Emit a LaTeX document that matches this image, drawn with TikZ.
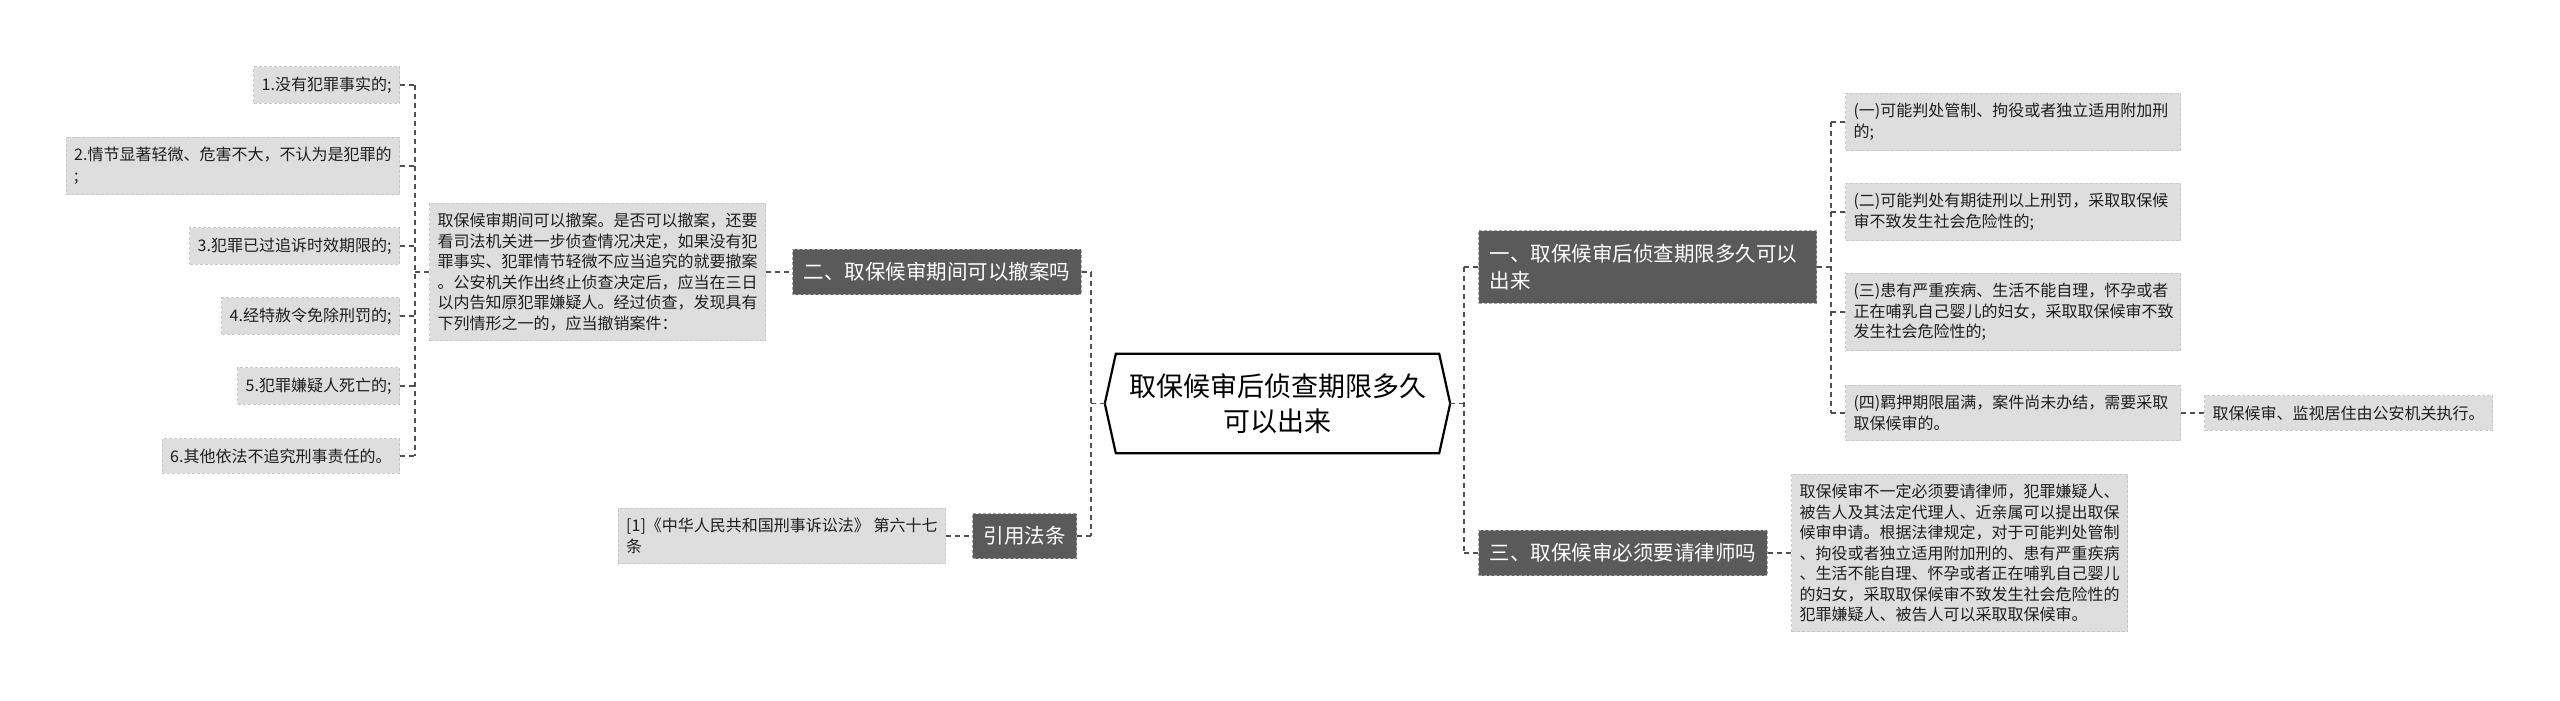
\documentclass[tikz,border=0pt]{standalone}
\usepackage{fontspec}
\setmainfont{Noto Sans CJK SC}
\usetikzlibrary{calc}
\definecolor{darkbox}{RGB}{90,90,90}
\definecolor{darkedge}{RGB}{165,165,165}
\definecolor{leafbox}{RGB}{222,222,222}
\definecolor{leafedge}{RGB}{200,200,200}
\definecolor{linec}{RGB}{80,80,80}
\definecolor{txt}{RGB}{30,30,30}
\begin{document}
\begin{tikzpicture}[x=1pt,y=-1pt,
 leaf/.style={fill=leafbox, draw=leafedge, dash pattern=on 3pt off 2pt, line width=1pt, text=txt, font=\fontsize{16}{20.5}\selectfont, align=left, inner xsep=8pt, inner ysep=10pt},
 topic/.style={fill=darkbox, draw=darkedge, dash pattern=on 3pt off 2pt, line width=1pt, text=white, font=\fontsize{20.5}{27.5}\selectfont, align=left, inner xsep=11pt, inner ysep=13pt},
 conn/.style={draw=linec, line width=1.3pt, dash pattern=on 5pt off 4pt},
]
\useasboundingbox (0,0) rectangle (2560,701);
\fill[white] (0,0) rectangle (2560,701);

% centre
\node[font=\fontsize{27}{35}\selectfont, align=center, minimum width=345pt, minimum height=99pt, inner sep=0pt] (C) at (1277.5,403.5) {取保候审后侦查期限多久\\可以出来};
\draw[line width=2.2pt, black, line join=miter] (C.west) -- ([xshift=11pt]C.north west) -- ([xshift=-11pt]C.north east) -- (C.east) -- ([xshift=-11pt]C.south east) -- ([xshift=11pt]C.south west) -- cycle;

% left leaves
\node[leaf, anchor=east] (L1) at (400,85) {1.没有犯罪事实的;};
\node[leaf, anchor=east] (L2) at (400,166) {2.情节显著轻微、危害不大，不认为是犯罪的\\;};
\node[leaf, anchor=east] (L3) at (400,246) {3.犯罪已过追诉时效期限的;};
\node[leaf, anchor=east] (L4) at (400,316) {4.经特赦令免除刑罚的;};
\node[leaf, anchor=east] (L5) at (400,386) {5.犯罪嫌疑人死亡的;};
\node[leaf, anchor=east] (L6) at (400,456) {6.其他依法不追究刑事责任的。};

\node[leaf, anchor=west] (D2) at (429,272) {取保候审期间可以撤案。是否可以撤案，还要\\看司法机关进一步侦查情况决定，如果没有犯\\罪事实、犯罪情节轻微不应当追究的就要撤案\\。公安机关作出终止侦查决定后，应当在三日\\以内告知原犯罪嫌疑人。经过侦查，发现具有\\下列情形之一的，应当撤销案件：};

\node[topic, anchor=west] (N2) at (792,272) {二、取保候审期间可以撤案吗};
\node[topic, anchor=east] (Ref) at (1077,536) {引用法条};
\node[leaf, anchor=east] (RefL) at (946,536) {[1]《中华人民共和国刑事诉讼法》 第六十七\\条};

% right side
\node[topic, anchor=west, text width=316pt] (N1) at (1478,267) {一、取保候审后侦查期限多久可以\\出来};
\node[topic, anchor=west] (N3) at (1478,553) {三、取保候审必须要请律师吗};
\node[leaf, anchor=west] (D3) at (1791,553) {取保候审不一定必须要请律师，犯罪嫌疑人、\\被告人及其法定代理人、近亲属可以提出取保\\候审申请。根据法律规定，对于可能判处管制\\、拘役或者独立适用附加刑的、患有严重疾病\\、生活不能自理、怀孕或者正在哺乳自己婴儿\\的妇女，采取取保候审不致发生社会危险性的\\犯罪嫌疑人、被告人可以采取取保候审。};

\node[leaf, anchor=west, text width=319pt] (R1) at (1845,122) {(一)可能判处管制、拘役或者独立适用附加刑\\的;};
\node[leaf, anchor=west, text width=319pt] (R2) at (1845,212) {(二)可能判处有期徒刑以上刑罚，采取取保候\\审不致发生社会危险性的;};
\node[leaf, anchor=west, text width=319pt] (R3) at (1845,312) {(三)患有严重疾病、生活不能自理，怀孕或者\\正在哺乳自己婴儿的妇女，采取取保候审不致\\发生社会危险性的;};
\node[leaf, anchor=west, text width=319pt] (R4) at (1845,413) {(四)羁押期限届满，案件尚未办结，需要采取\\取保候审的。};
\node[leaf, anchor=west] (R5) at (2204,413) {取保候审、监视居住由公安机关执行。};

% trunk coordinates
\coordinate (tl) at (415,0);
\coordinate (tm) at (1091,0);
\coordinate (tr) at (1464,0);
\coordinate (tr2) at (1831,0);

% left connectors
\draw[conn] (L1.east -| tl) -- (L6.east -| tl);
\foreach \n in {L1,L2,L3,L4,L5,L6} \draw[conn] (\n.east) -- (\n.east -| tl);
\draw[conn] (D2.west) -- (D2.west -| tl);
\draw[conn] (D2.east) -- (N2.west);

\draw[conn] (N2.east -| tm) -- (Ref.east -| tm);
\draw[conn] (N2.east) -- (N2.east -| tm);
\draw[conn] (Ref.east) -- (Ref.east -| tm);
\draw[conn] (C.west) -- (C.west -| tm);
\draw[conn] (RefL.east) -- (Ref.west);

% right connectors
\draw[conn] (N1.west -| tr) -- (N3.west -| tr);
\draw[conn] (C.east) -- (C.east -| tr);
\draw[conn] (N1.west) -- (N1.west -| tr);
\draw[conn] (N3.west) -- (N3.west -| tr);
\draw[conn] (N3.east) -- (D3.west);

\draw[conn] (R1.west -| tr2) -- (R4.west -| tr2);
\draw[conn] (N1.east) -- (N1.east -| tr2);
\foreach \n in {R1,R2,R3,R4} \draw[conn] (\n.west) -- (\n.west -| tr2);
\draw[conn] (R4.east) -- (R5.west);
\end{tikzpicture}
\end{document}
